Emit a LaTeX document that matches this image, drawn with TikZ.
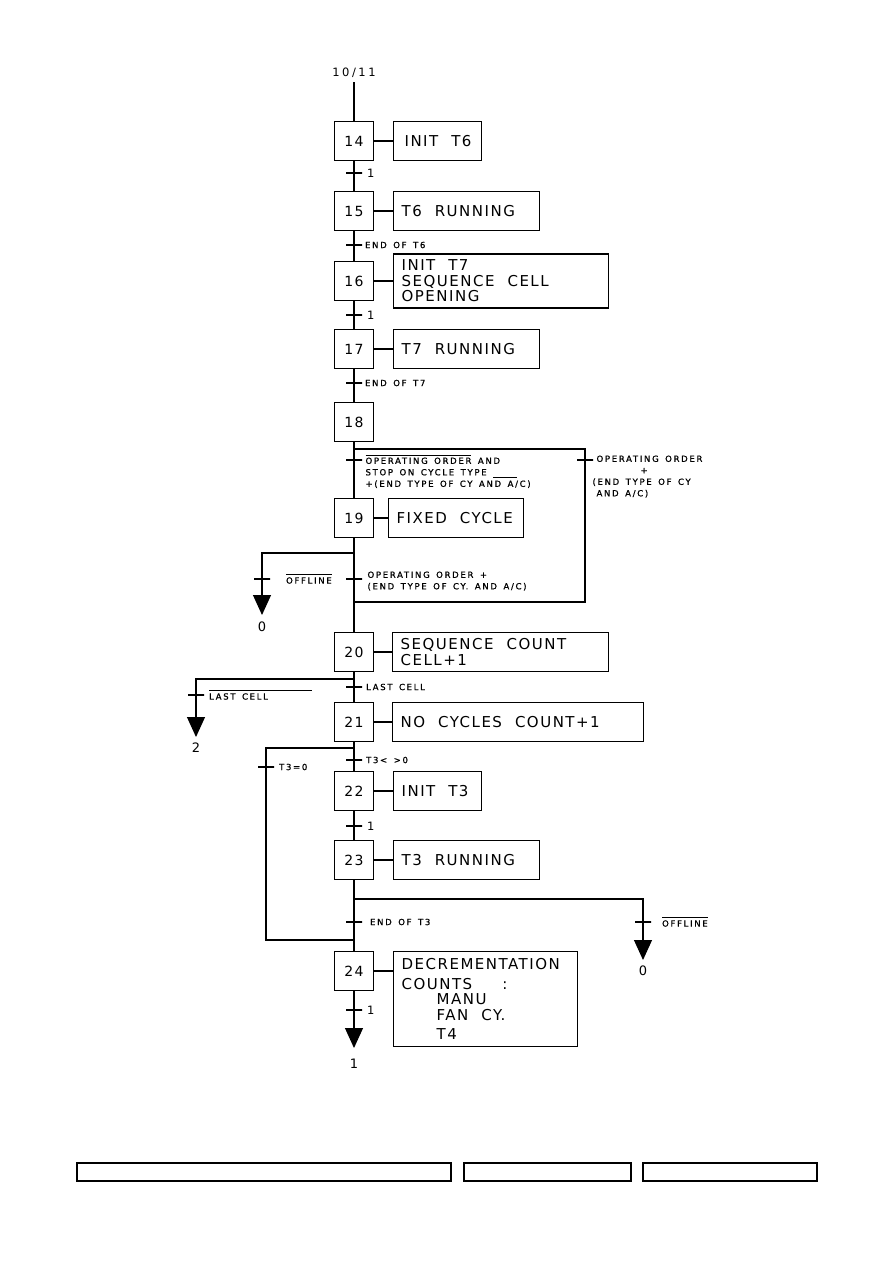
\documentclass[tikz,border=0pt]{standalone}
\usepackage{fontspec}
\usetikzlibrary{positioning,arrows.meta}
\newfontfamily\bigfam{DejaVu Sans}[LetterSpace=10]
\newfontfamily\midfam{DejaVu Sans}[LetterSpace=22]
\newfontfamily\smallfam{DejaVu Sans}[LetterSpace=20,FakeBold=1]
\newcommand\bigf{\bigfam\fontsize{15}{15.5}\selectfont}
\newcommand\stepf{\bigfam\fontsize{14}{15}\selectfont}
\newcommand\midf{\midfam\fontsize{11.5}{12}\selectfont}
\newcommand\arrf{\midfam\fontsize{13}{14}\selectfont}
\newcommand\smallf{\smallfam\fontsize{8.5}{11.5}\selectfont}
\newcommand\ovl[1]{\leavevmode\vbox{\hrule height 0.8pt\kern 2.2pt\hbox{#1}}}

\begin{document}
\begin{tikzpicture}[x=1pt,y=-1pt,line width=1.1pt,
  stepbox/.style={draw,minimum width=39pt,minimum height=39pt,inner sep=0pt,font=\stepf},
  actbox/.style={draw,text width=#1,inner xsep=8pt,inner ysep=2pt,minimum height=39pt,align=left,font=\bigf,
    execute at begin node={\spaceskip=13pt\relax\xspaceskip=13pt\relax}},
  tick/.style={draw,minimum width=16pt,minimum height=0pt,inner sep=0pt},
  lab/.style={font=\smallf,inner sep=1pt,execute at begin node={\spaceskip=6.5pt\relax}},
  goto/.style={font=\midf,inner sep=0pt},
  endlab/.style={font=\arrf,inner sep=0pt},
  arr/.style={-{Triangle[width=18pt,length=20pt]}}]
\useasboundingbox (0,0) rectangle (893,1263);

% steps
\node[goto] (top) at (354,73) {10/11};
\node[stepbox] (s14) at (354,141) {14};
\node[stepbox] (s15) at (354,211) {15};
\node[stepbox] (s16) at (354,281) {16};
\node[stepbox] (s17) at (354,349) {17};
\node[stepbox] (s18) at (354,422) {18};
\node[stepbox] (s19) at (354,518) {19};
\node[stepbox] (s20) at (354,652) {20};
\node[stepbox] (s21) at (354,722) {21};
\node[stepbox] (s22) at (354,791) {22};
\node[stepbox] (s23) at (354,860) {23};
\node[stepbox] (s24) at (354,971) {24};

% actions
\node[actbox=72pt,right=19pt of s14] (a14) {\hspace*{3pt}INIT~T6};
\node[actbox=130pt,right=19pt of s15] (a15) {T6~RUNNING};
\node[actbox=199pt,right=19pt of s16,minimum height=54pt] (a16) {INIT T7\\SEQUENCE CELL\\OPENING};
\node[actbox=130pt,right=19pt of s17] (a17) {T7~RUNNING};
\node[actbox=119pt,right=14pt of s19] (a19) {FIXED~CYCLE};
\node[actbox=200pt,right=18pt of s20] (a20) {SEQUENCE COUNT\\CELL+1};
\node[actbox=235pt,right=18pt of s21] (a21) {NO~CYCLES~COUNT+1};
\node[actbox=72pt,right=19pt of s22] (a22) {INIT~T3};
\node[actbox=130pt,right=19pt of s23] (a23) {T3~RUNNING};
\node[actbox=168pt,anchor=north west,minimum height=95pt] (a24) at ([xshift=19pt]s24.north east)
  {DECREMENTATION\\[4pt]COUNTS\hspace{30pt}:\\\hspace*{35pt}MANU\\\hspace*{35pt}FAN CY.\\[4pt]\hspace*{35pt}T4};
\foreach \s in {14,15,16,17,19,20,21,22,23,24} \draw (s\s) -- (s\s -| a\s.west);

% main line
\draw ([yshift=-4pt]top.south) -- (s14);
\foreach \a/\b in {14/15,15/16,16/17,17/18,18/19,19/20,20/21,21/22,22/23,23/24}
  \draw (s\a) -- (s\b);
\coordinate (e24) at (354,1048);
\draw[arr] (s24) -- (e24);
\node[endlab,below=10pt of e24] (g24) {1};

% transitions on the main line
\node[tick,label={[goto,label distance=4pt]right:1}] (t14) at (354,173) {};
\node[tick,label={[lab,label distance=1pt]right:END OF T6}] (t15) at (354,245) {};
\node[tick,label={[goto,label distance=4pt]right:1}] (t16) at (354,315) {};
\node[tick,label={[lab,label distance=1pt]right:END OF T7}] (t17) at (354,383) {};
\node[tick] (t18) at (354,460) {};
\node[tick] (t19) at (354,579) {};
\node[tick,label={[lab,label distance=2pt]right:LAST CELL}] (t20) at (354,687) {};
\node[tick,label={[lab,label distance=2pt]right:{T3< >0}}] (t21) at (354,760) {};
\node[tick,label={[goto,label distance=4pt]right:1}] (t22) at (354,826) {};
\node[tick,label={[lab,label distance=6pt]right:END OF T3}] (t23) at (354,922) {};
\node[tick,label={[goto,label distance=4pt]right:1}] (t24) at (354,1010) {};

\node[lab,align=left,anchor=north west] (l18) at (364,453)
  {\ovl{OPERATING ORDER} AND\\STOP ON CYCLE TYPE \rule[-2pt]{24pt}{0.8pt}\\+(END TYPE OF CY AND A/C)};
\node[lab,align=left,anchor=west] (l19) at (366,581)
  {OPERATING ORDER +\\(END TYPE OF CY. AND A/C)};

% loop after 18
\coordinate (j18) at (354,449);
\coordinate (k18) at (354,602);
\node[tick] (r18) at (585,460) {};
\draw (j18) -| (r18) |- (k18);
\node[lab,align=left,anchor=north west] (m18) at (591,454)
  {\hspace*{4pt}OPERATING ORDER\\\hspace*{48pt}+\\(END TYPE OF CY\\\hspace*{4pt}AND A/C)};

% branch after 19
\coordinate (j19) at (354,553);
\coordinate (e19) at (262,615);
\node[tick,label={[lab,label distance=14pt]right:{\ovl{OFFLINE}}}] (q19) at (262,579) {};
\draw[arr] (j19) -| (e19);
\node[endlab,below=6pt of e19] (g19) {0};

% branch after 20
\coordinate (j20) at (354,679);
\coordinate (e20) at (196,737);
\node[tick,label={[lab,label distance=3pt]right:{\ovl{LAST CELL\hspace{44pt}}}}] (q20) at (196,695) {};
\draw[arr] (j20) -| (e20);
\node[endlab,below=5pt of e20] (g20) {2};

% loop after 21
\coordinate (j21) at (354,748);
\coordinate (k21) at (354,940);
\node[tick,label={[lab,label distance=3pt]right:T3=0}] (q21) at (266,767) {};
\draw (j21) -| (q21) |- (k21);

% branch after 23
\coordinate (j23) at (354,899);
\coordinate (e23) at (643,960);
\node[tick,label={[lab,label distance=9pt]right:{\ovl{OFFLINE}}}] (q23) at (643,922) {};
\draw[arr] (j23) -| (e23);
\node[endlab,below=5pt of e23] (g23) {0};

% footer
\draw (77,1163) rectangle (451,1181);
\draw (464,1163) rectangle (631,1181);
\draw (643,1163) rectangle (817,1181);
\end{tikzpicture}
\end{document}
